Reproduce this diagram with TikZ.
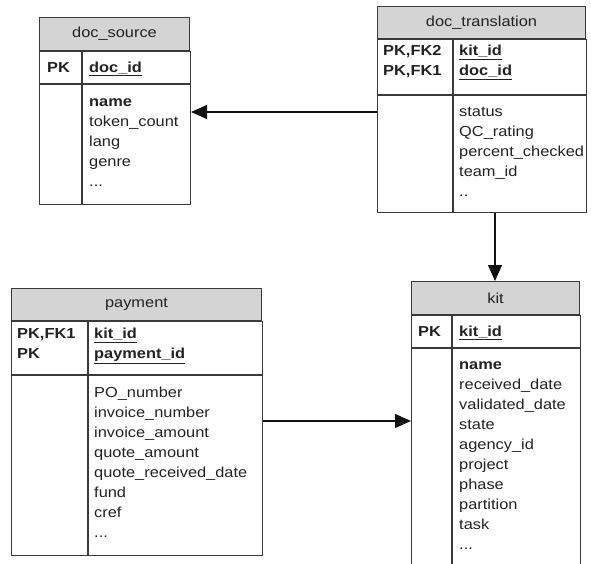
\documentclass[tikz,border=0pt]{standalone}
\usepackage{fontspec}
\setmainfont{Liberation Sans}[FakeStretch=1.13]
\usetikzlibrary{arrows.meta,positioning}
\definecolor{edgegray}{HTML}{3A3A3A}
\definecolor{headgray}{HTML}{D4D4D4}
\definecolor{textgray}{HTML}{222222}
\definecolor{linkblack}{HTML}{111111}
\tikzset{
  tabhead/.style={draw=edgegray, fill=headgray, line width=1pt, anchor=north west,
    inner sep=0pt, font=\fontsize{14.5}{20}\selectfont, text=textgray},
  tabcell/.style={draw=edgegray, line width=1pt, anchor=north west, inner sep=0pt},
  celltext/.style={anchor=north west, inner sep=0pt, align=left,
    font=\fontsize{14.5}{20}\selectfont, text=textgray, execute at begin node=\strut},
  link/.style={draw=linkblack, line width=1.2pt, -{Triangle[length=16pt,width=14pt]}}
}
\newcommand{\keyname}[1]{\textbf{\underline{#1}}}
\begin{document}
\begin{tikzpicture}[x=1pt,y=-1pt]
  \useasboundingbox (0,0) rectangle (591,564);

  % doc_source
  \node[tabhead, minimum width=150pt, minimum height=33pt] (srchead) at (39,17) {doc\_source};
  \node[tabcell, minimum width=42pt, minimum height=32pt] (srckeyl) at (srchead.south west) {};
  \node[tabcell, minimum width=108pt, minimum height=32pt] (srckeyr) at (srckeyl.north east) {};
  \node[tabcell, minimum width=42pt, minimum height=120pt] (srcattl) at (srckeyl.south west) {};
  \node[tabcell, minimum width=108pt, minimum height=120pt] (srcattr) at (srcattl.north east) {};
  \node[celltext] (srcpk) at ([xshift=8pt,yshift=-7pt]srckeyl.north west) {\textbf{PK}};
  \node[celltext] (srckeys) at ([xshift=7pt,yshift=-7pt]srckeyr.north west) {\keyname{doc\_id}};
  \node[celltext] (srcattrs) at ([xshift=7pt,yshift=-14pt]srcattr.north west)
    {\textbf{name}\\token\_count\\lang\\genre\\...};

  % doc_translation
  \node[tabhead, minimum width=208pt, minimum height=32pt] (trhead) at (377,6) {doc\_translation};
  \node[tabcell, minimum width=75pt, minimum height=55pt] (trkeyl) at (trhead.south west) {};
  \node[tabcell, minimum width=133pt, minimum height=55pt] (trkeyr) at (trkeyl.north east) {};
  \node[tabcell, minimum width=75pt, minimum height=117pt] (trattl) at (trkeyl.south west) {};
  \node[tabcell, minimum width=133pt, minimum height=117pt] (trattr) at (trattl.north east) {};
  \node[celltext] (trpk) at ([xshift=6pt,yshift=-6pt]trkeyl.north west) {\textbf{PK,FK2}\\\textbf{PK,FK1}};
  \node[celltext] (trkeys) at ([xshift=6pt,yshift=-6pt]trkeyr.north west) {\keyname{kit\_id}\\\keyname{doc\_id}};
  \node[celltext] (trattrs) at ([xshift=6pt,yshift=-12pt]trattr.north west)
    {status\\QC\_rating\\percent\_checked\\team\_id\\..};

  % payment
  \node[tabhead, minimum width=250pt, minimum height=32pt] (payhead) at (11,288) {payment};
  \node[tabcell, minimum width=76pt, minimum height=53pt] (paykeyl) at (payhead.south west) {};
  \node[tabcell, minimum width=174pt, minimum height=53pt] (paykeyr) at (paykeyl.north east) {};
  \node[tabcell, minimum width=76pt, minimum height=180pt] (payattl) at (paykeyl.south west) {};
  \node[tabcell, minimum width=174pt, minimum height=180pt] (payattr) at (payattl.north east) {};
  \node[celltext] (paypk) at ([xshift=6pt,yshift=-7pt]paykeyl.north west) {\textbf{PK,FK1}\\\textbf{PK}};
  \node[celltext] (paykeys) at ([xshift=6pt,yshift=-7pt]paykeyr.north west) {\keyname{kit\_id}\\\keyname{payment\_id}};
  \node[celltext] (payattrs) at ([xshift=6pt,yshift=-12pt]payattr.north west)
    {PO\_number\\invoice\_number\\invoice\_amount\\quote\_amount\\quote\_received\_date\\fund\\cref\\...};

  % kit
  \node[tabhead, minimum width=168pt, minimum height=33pt] (kithead) at (411,281) {kit};
  \node[tabcell, minimum width=40pt, minimum height=32pt] (kitkeyl) at (kithead.south west) {};
  \node[tabcell, minimum width=128pt, minimum height=32pt] (kitkeyr) at (kitkeyl.north east) {};
  \node[tabcell, minimum width=40pt, minimum height=217pt] (kitattl) at (kitkeyl.south west) {};
  \node[tabcell, minimum width=128pt, minimum height=217pt] (kitattr) at (kitattl.north east) {};
  \node[celltext] (kitpk) at ([xshift=7pt,yshift=-7pt]kitkeyl.north west) {\textbf{PK}};
  \node[celltext] (kitkeys) at ([xshift=7pt,yshift=-7pt]kitkeyr.north west) {\keyname{kit\_id}};
  \node[celltext] (kitattrs) at ([xshift=7pt,yshift=-13pt]kitattr.north west)
    {\textbf{name}\\received\_date\\validated\_date\\state\\agency\_id\\project\\phase\\partition\\task\\...};

  % links
  \draw[link] ([yshift=-17pt]trattl.north west) -- ([yshift=-17pt]trattl.north west -| srcattr.east);
  \draw[link] ([xshift=42pt]trattr.south west) -- ([xshift=42pt]trattr.south west |- kithead.north);
  \draw[link] ([yshift=-46pt]payattr.north east) -- ([yshift=-46pt]payattr.north east -| kitattl.west);
\end{tikzpicture}
\end{document}
